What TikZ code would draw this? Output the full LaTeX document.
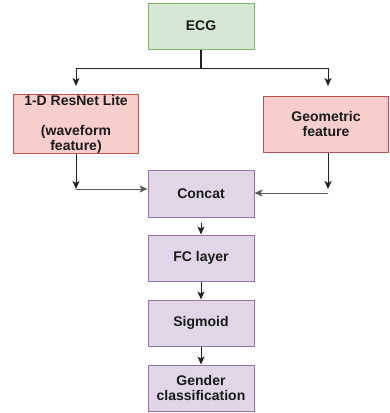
\documentclass[tikz,border=0pt]{standalone}
\usepackage{fontspec}
\setmainfont{Liberation Sans}
\usetikzlibrary{arrows.meta,calc}
\definecolor{gfill}{HTML}{D5E8D4}
\definecolor{gdraw}{HTML}{82B366}
\definecolor{rfill}{HTML}{F8CECC}
\definecolor{rdraw}{HTML}{B85450}
\definecolor{pfill}{HTML}{E1D5E7}
\definecolor{pdraw}{HTML}{9673A6}
\definecolor{txt}{HTML}{1A1A1A}
\definecolor{ln}{HTML}{222222}
\begin{document}
\begin{tikzpicture}[x=1pt,y=-1pt,
  box/.style={draw, line width=1pt, minimum width=106pt, minimum height=46pt, align=center,
    font=\fontsize{14}{15}\selectfont\bfseries, inner sep=0pt, text=txt},
  green/.style={box, fill=gfill, draw=gdraw},
  red/.style={box, fill=rfill, draw=rdraw, minimum width=125pt, minimum height=56pt},
  purple/.style={box, fill=pfill, draw=pdraw},
  arr/.style={draw=ln, line width=1pt, -{Stealth[length=8pt,width=7pt,inset=2pt]}}]
\useasboundingbox (0,0) rectangle (389,413);
\node[green] (ecg) at (201,26) {ECG};
\node[red] (res) at (76,124) {1-D ResNet Lite\\[15pt](waveform\\feature)};
\node[red] (geo) at (326,124) {Geometric\\feature};
\node[purple, minimum height=47pt] (concat) at (201,193.5) {Concat};
\node[purple] (fc) at (201,258) {FC layer};
\node[purple] (sig) at (201,323) {Sigmoid};
\node[purple] (gen) at (201,388) {Gender\\classification};
\coordinate (j) at (201,68);
\coordinate (lt) at (76,86);
\coordinate (rt) at (328,86);
\coordinate (ld) at (76,189);
\coordinate (rd) at (328,189);
\coordinate (lh) at (76,189);
\coordinate (rh) at (328,193);
\draw[draw=ln, line width=1.6pt] (ecg.south) -- (j);
\draw[arr] (j) -| (lt);
\draw[arr] (j) -| (rt);
\draw[arr] (res.south) -- (ld);
\draw[arr] (geo.south -| rd) -- (rd);
\draw[arr, draw=black!65] (lh) -- (lh -| concat.west);
\draw[arr, draw=black!65] (rh) -- (rh -| concat.east);
\draw[arr] ($(concat.south)+(0,5)$) -- (fc.north);
\draw[arr] (fc.south) -- (sig.north);
\draw[arr] (sig.south) -- (gen.north);
\end{tikzpicture}
\end{document}
